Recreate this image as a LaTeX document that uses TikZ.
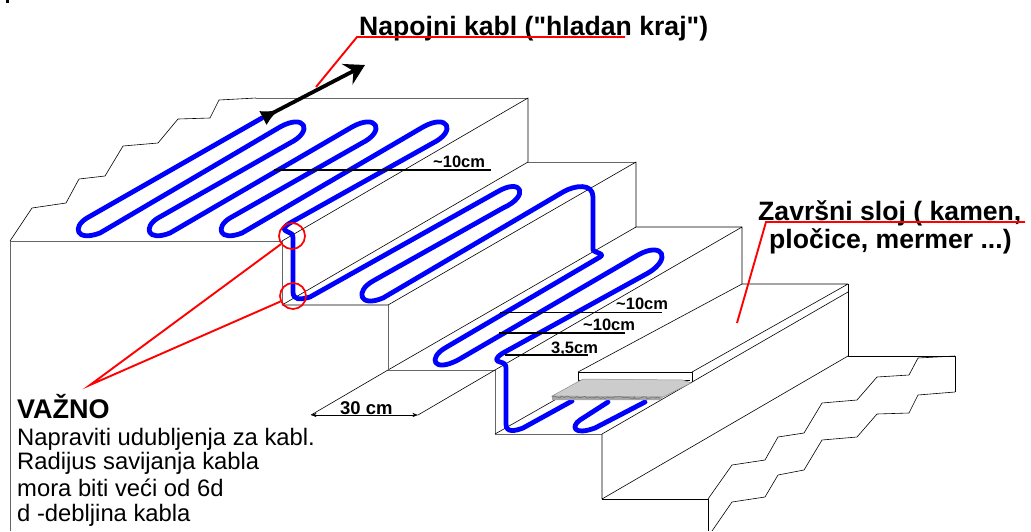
\documentclass[tikz,border=0pt]{standalone}
\usepackage{fontspec}
\setmainfont{Liberation Sans}
\newfontfamily\straightfont{Liberation Sans}
\usetikzlibrary{arrows.meta,decorations.pathmorphing}
\tikzset{
  stairline/.style = {black, line width=0.6pt, line join=round},
  stairgray/.style = {black!60, line width=1pt},
  cable/.style = {blue, line width=4.8pt, line join=round, line cap=round},
  redline/.style = {red, line width=1.9pt},
  dimline/.style = {black, line width=1.4pt},
  biglabel/.style = {anchor=base west, inner sep=0pt, font=\fontsize{26.6}{26.6}\selectfont\bfseries},
  dimlabel/.style = {anchor=base west, inner sep=0pt, font=\fontsize{16.5}{16.5}\selectfont\bfseries},
  notelabel/.style = {anchor=base west, inner sep=0pt, font=\fontsize{23.8}{23.8}\selectfont}}

\begin{document}
\begin{tikzpicture}[x=1pt,y=-1pt]
\useasboundingbox (0,0) rectangle (1031,531);

% stubs of the stairs
\fill (6,0) rectangle (9,3);
\draw [stairline] (10,241) -- (32,208) -- (66,203) -- (79,179) -- (105,176) -- (123,146)
	-- (158,143) -- (178,119) -- (210,118) -- (219,100) -- (256,98);
\draw [stairgray] (256,98) -- (528,98);
\draw [stairgray] (10,531) -- (10,241) -- (282,241) -- (282,305);
\draw [stairline] (282,241) -- (528,98) -- (528,162);
\draw [stairline] (282,305) -- (528,162);
\draw [stairgray] (528,162) -- (636,162);
\draw [stairline] (282,305) -- (388,305) -- (636,162) -- (636,227);
\draw [stairline] (388,370) -- (636,227) -- (742,227);
\draw [stairgray] (388,305) -- (388,370) -- (495,370) -- (495,434) -- (602,434);
\draw [stairline] (495,370) -- (742,227) -- (742,284);
\draw [stairline] (495,434) -- (560,397);
\draw [stairline] (602,434) -- (848,292);
\draw [stairline] (578,372) -- (742,284) -- (848,284) -- (692,372);
\draw [stairline] (848,284) -- (848,356) -- (955,356) -- (955,392);
\draw [stairline] (578,372) -- (692,372) -- (692,382);
\draw [stairline] (578,372) -- (578,380) -- (690,380);
\draw [stairline] (602,434) -- (602,499) -- (848,356);
\draw [stairline] (602,499) -- (708,499) -- (708,531);
\draw [stairline] (708,499) -- (732,465) -- (765,460) -- (778,437) -- (804,433) -- (822,403)
	-- (857,400) -- (877,377) -- (909,375) -- (918,358) -- (955,356);
\draw [stairline] (712,531) -- (732,502) -- (765,497) -- (778,475) -- (804,470) -- (822,440)
	-- (857,437) -- (877,414) -- (909,413) -- (918,395) -- (955,392);

% heating cable
\draw [cable] (262,118) -- (87,218) .. controls (72,227) and (76,242) .. (100,233)
	-- (280,127) .. controls (305,113) and (314,131) .. (290,143)
	-- (158,218) .. controls (143,227) and (147,242) .. (170,233)
	-- (352,127) .. controls (377,113) and (386,131) .. (362,143)
	-- (230,218) .. controls (215,227) and (219,242) .. (242,233)
	-- (423,127) .. controls (448,113) and (457,131) .. (433,143)
	-- (290,223) .. controls (282,228) and (283,230) .. (288,232) .. controls (291,233) and (293,234) .. (293,238)
	-- (293,292) .. controls (293,300) and (300,300) .. (310,297)
	-- (497,192) .. controls (522,177) and (530,196) .. (503,208)
	-- (373,281) .. controls (355,291) and (359,308) .. (383,298)
	-- (563,192) .. controls (575,185) and (593,183) .. (593,197)
	-- (593,250) .. controls (594,253) and (606,253) .. (600,257)
	-- (445,348) .. controls (428,358) and (433,373) .. (458,360)
	-- (638,255) .. controls (663,241) and (672,259) .. (648,273)
	-- (503,353) .. controls (495,358) and (495,361) .. (500,362) .. controls (504,363) and (506,364) .. (506,368)
	-- (506,424) .. controls (506,433) and (515,431) .. (523,428) -- (572,401);
\draw [cable] (608,402) -- (580,420) .. controls (571,426) and (573,436) .. (595,428) -- (645,402);

% stone plate
\fill [black!20, draw=black!45, line width=0.5pt] (552,396) -- (583,379) -- (683,380) -- (691,383) -- (663,397) -- cycle;
\fill [black!35] (552,396) -- (663,397) -- (660,400) -- (552,400) -- cycle;
\draw [black!55, line width=0.6pt, decorate, decoration={random steps, segment length=2pt, amplitude=1.2pt}] (552,397) -- (660,398);

% feed arrow
\coordinate (feed_a) at (263,118);
\coordinate (feed_b) at (365,65);
\draw [black, line width=3.8pt, {Latex[reversed,length=18pt,width=16pt]}-{Stealth[length=20pt,width=23pt,inset=7pt]}] (feed_a) -- (feed_b);

% dimensions
\draw [dimline] (274,170) -- (491,170);
\draw [dimline, line width=1pt] (500,312) -- (662,312);
\draw [dimline] (499,333) -- (625,333);
\draw [dimline] (505,355) -- (588,355);
\draw [stairline] (388,370) -- (311,415);
\draw [stairline] (495,370) -- (418,415);
\draw [stairline, Stealth-Stealth] (311,415) -- (418,415);

% labels
\node [biglabel] (feed_text) at (359,35) {\straightfont\bfseries Napojni kabl ("hladan kraj")};
\node [biglabel] (finish_a) at (758,220) {Završni sloj ( kamen,};
\node [biglabel] (finish_b) at (769,248) {pločice, mermer ...)};
\node [dimlabel] (dim_a) at (433,167) {\textasciitilde 10cm};
\node [dimlabel] (dim_b) at (616,309) {\textasciitilde 10cm};
\node [dimlabel] (dim_c) at (583,330) {\textasciitilde 10cm};
\node [dimlabel] (dim_d) at (551,353) {3,5cm};
\node [dimlabel, fill=white, inner xsep=1pt, font=\fontsize{18.5}{18.5}\selectfont\bfseries] (dim_e) at (339,414) {30 cm};
\node [notelabel, font=\fontsize{27}{27}\selectfont\bfseries] (note_a) at (17,418) {VAŽNO};
\node [notelabel] (note_b) at (17,445) {Napraviti udubljenja za kabl.};
\node [notelabel] (note_c) at (17,469) {Radijus savijanja kabla};
\node [notelabel] (note_d) at (17,496) {mora biti veći od 6d};
\node [notelabel] (note_e) at (17,521) {d -debljina kabla};

% red leaders
\node [draw=red, line width=1.7pt, circle, minimum size=26pt, inner sep=0pt] (bend_a) at (292,236) {};
\node [draw=red, line width=1.7pt, circle, minimum size=26pt, inner sep=0pt] (bend_b) at (293,296) {};
\coordinate (note_tip) at (90,385);
\draw [redline] (bend_a) -- (note_tip) -- (bend_b);
\draw [redline] (316,87) -- (357,37) -- (625,37);
\draw [redline] (737,323) -- (766,222) -- (1025,222);
\end{tikzpicture}
\end{document}
